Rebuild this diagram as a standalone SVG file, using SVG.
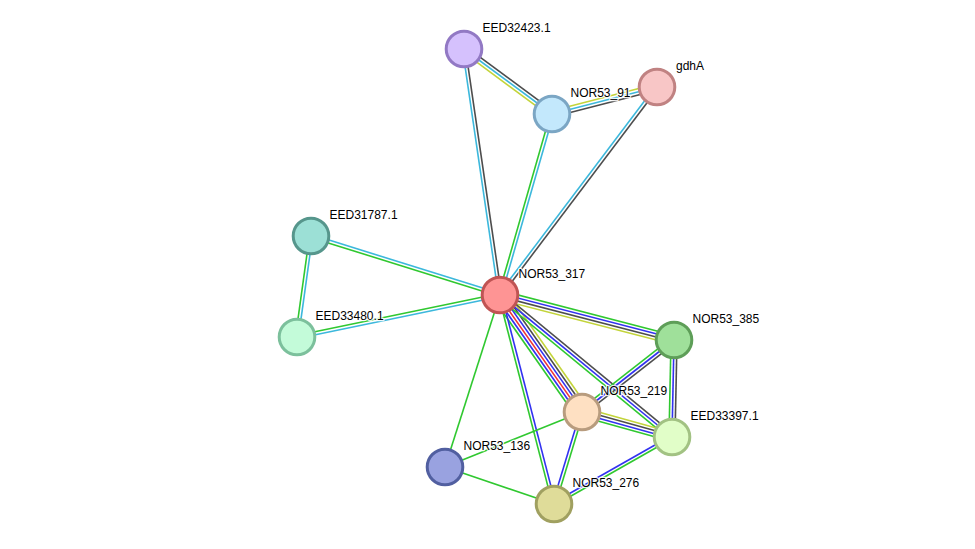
<svg xmlns="http://www.w3.org/2000/svg" width="975" height="549" viewBox="0 0 975 549">
<style>
line{stroke-width:1.6;fill:none}
.g{stroke:#30c830}.b{stroke:#3232f0}.r{stroke:#f03535}.k{stroke:#4d4d4d}.c{stroke:#3cb8dc}.y{stroke:#c3d43a}
circle{stroke-width:3}
text{font-family:"Liberation Sans",Arial,sans-serif;font-size:12px;fill:#000;stroke:#fff;stroke-width:2.5;stroke-opacity:0.85;paint-order:stroke;stroke-linejoin:round}
</style>
<rect width="975" height="549" fill="#fff"/>
<g id="edges">
<!-- EED32423.1 - NOR53_91 -->
<line class="y" x1="464" y1="49" x2="552" y2="114" transform="translate(-1.78 2.41)"/>
<line class="c" x1="464" y1="49" x2="552" y2="114"/>
<line class="k" x1="464" y1="49" x2="552" y2="114" transform="translate(1.78 -2.41)"/>
<!-- EED32423.1 - NOR53_317 -->
<line class="c" x1="464" y1="49" x2="500" y2="295" transform="translate(-1.48 0.22)"/>
<line class="k" x1="464" y1="49" x2="500" y2="295" transform="translate(1.48 -0.22)"/>
<!-- NOR53_91 - gdhA -->
<line class="y" x1="552" y1="114" x2="657" y2="87" transform="translate(-0.75 -2.91)"/>
<line class="c" x1="552" y1="114" x2="657" y2="87"/>
<line class="k" x1="552" y1="114" x2="657" y2="87" transform="translate(0.75 2.91)"/>
<!-- NOR53_91 - NOR53_317 -->
<line class="g" x1="552" y1="114" x2="500" y2="295" transform="translate(-1.44 -0.41)"/>
<line class="c" x1="552" y1="114" x2="500" y2="295" transform="translate(1.44 0.41)"/>
<!-- gdhA - NOR53_317 -->
<line class="c" x1="657" y1="87" x2="500" y2="295" transform="translate(-1.2 -0.9)"/>
<line class="k" x1="657" y1="87" x2="500" y2="295" transform="translate(1.2 0.9)"/>
<!-- EED31787.1 - NOR53_317 -->
<line class="c" x1="311" y1="236" x2="500" y2="295" transform="translate(0.45 -1.43)"/>
<line class="g" x1="311" y1="236" x2="500" y2="295" transform="translate(-0.45 1.43)"/>
<!-- EED31787.1 - EED33480.1 -->
<line class="g" x1="311" y1="236" x2="297" y2="337" transform="translate(-1.49 -0.21)"/>
<line class="c" x1="311" y1="236" x2="297" y2="337" transform="translate(1.49 0.21)"/>
<!-- EED33480.1 - NOR53_317 -->
<line class="g" x1="297" y1="337" x2="500" y2="295" transform="translate(-0.3 -1.47)"/>
<line class="c" x1="297" y1="337" x2="500" y2="295" transform="translate(0.3 1.47)"/>
<!-- NOR53_317 - NOR53_385 -->
<line class="g" x1="500" y1="295" x2="674" y2="340" transform="translate(1.13 -4.35)"/>
<line class="b" x1="500" y1="295" x2="674" y2="340" transform="translate(0.38 -1.45)"/>
<line class="k" x1="500" y1="295" x2="674" y2="340" transform="translate(-0.38 1.45)"/>
<line class="y" x1="500" y1="295" x2="674" y2="340" transform="translate(-1.13 4.35)"/>
<!-- NOR53_317 - NOR53_219 -->
<line class="g" x1="500" y1="295" x2="582" y2="412" transform="translate(-6.15 4.3)"/>
<line class="b" x1="500" y1="295" x2="582" y2="412" transform="translate(-3.69 2.58)"/>
<line class="r" x1="500" y1="295" x2="582" y2="412" transform="translate(-1.23 0.86)"/>
<line class="b" x1="500" y1="295" x2="582" y2="412" transform="translate(1.23 -0.86)"/>
<line class="k" x1="500" y1="295" x2="582" y2="412" transform="translate(3.69 -2.58)"/>
<line class="y" x1="500" y1="295" x2="582" y2="412" transform="translate(6.15 -4.3)"/>
<!-- NOR53_317 - EED33397.1 -->
<line class="k" x1="500" y1="295" x2="672" y2="437" transform="translate(1.91 -2.31)"/>
<line class="b" x1="500" y1="295" x2="672" y2="437"/>
<line class="g" x1="500" y1="295" x2="672" y2="437" transform="translate(-1.91 2.31)"/>
<!-- NOR53_317 - NOR53_276 -->
<line class="g" x1="500" y1="295" x2="554" y2="504" transform="translate(-1.45 0.38)"/>
<line class="b" x1="500" y1="295" x2="554" y2="504" transform="translate(1.45 -0.38)"/>
<!-- NOR53_317 - NOR53_136 -->
<line class="g" x1="500" y1="295" x2="445" y2="467"/>
<!-- NOR53_385 - NOR53_219 -->
<line class="g" x1="674" y1="340" x2="582" y2="412" transform="translate(-1.85 -2.36)"/>
<line class="b" x1="674" y1="340" x2="582" y2="412"/>
<line class="k" x1="674" y1="340" x2="582" y2="412" transform="translate(1.85 2.36)"/>
<!-- NOR53_385 - EED33397.1 -->
<line class="g" x1="674" y1="340" x2="672" y2="437" transform="translate(-3 0)"/>
<line class="b" x1="674" y1="340" x2="672" y2="437"/>
<line class="k" x1="674" y1="340" x2="672" y2="437" transform="translate(3 0)"/>
<!-- NOR53_219 - EED33397.1 -->
<line class="y" x1="582" y1="412" x2="672" y2="437" transform="translate(1.2 -4.34)"/>
<line class="k" x1="582" y1="412" x2="672" y2="437" transform="translate(0.4 -1.45)"/>
<line class="b" x1="582" y1="412" x2="672" y2="437" transform="translate(-0.4 1.45)"/>
<line class="g" x1="582" y1="412" x2="672" y2="437" transform="translate(-1.2 4.34)"/>
<!-- NOR53_219 - NOR53_276 -->
<line class="b" x1="582" y1="412" x2="554" y2="504" transform="translate(-1.43 -0.44)"/>
<line class="g" x1="582" y1="412" x2="554" y2="504" transform="translate(1.43 0.44)"/>
<!-- NOR53_219 - NOR53_136 -->
<line class="g" x1="582" y1="412" x2="445" y2="467"/>
<!-- NOR53_136 - NOR53_276 -->
<line class="g" x1="445" y1="467" x2="554" y2="504"/>
<!-- EED33397.1 - NOR53_276 -->
<line class="b" x1="672" y1="437" x2="554" y2="504" transform="translate(-0.74 -1.3)"/>
<line class="g" x1="672" y1="437" x2="554" y2="504" transform="translate(0.74 1.3)"/>
</g>
<g id="EED32423.1"><circle cx="464" cy="49" r="17.8" fill="#d5c1fd" stroke="#9279c4"/><text x="482.5" y="32">EED32423.1</text></g>
<g id="gdhA"><circle cx="657" cy="87" r="17.8" fill="#f8c6c6" stroke="#c08282"/><text x="676" y="70">gdhA</text></g>
<g id="NOR53_91"><circle cx="552" cy="114" r="17.8" fill="#c3e8fc" stroke="#7ba6c4"/><text x="570.5" y="97">NOR53_91</text></g>
<g id="EED31787.1"><circle cx="311" cy="236" r="17.8" fill="#9ce0d6" stroke="#56968c"/><text x="329.5" y="219">EED31787.1</text></g>
<g id="EED33480.1"><circle cx="297" cy="337" r="17.8" fill="#c3fbd9" stroke="#7cc09c"/><text x="315.5" y="320">EED33480.1</text></g>
<g id="NOR53_317"><circle cx="500" cy="295" r="17.8" fill="#fe9494" stroke="#c05454"/><text x="518.5" y="278">NOR53_317</text></g>
<g id="NOR53_385"><circle cx="674" cy="340" r="17.8" fill="#9fe09a" stroke="#5e9e58"/><text x="692.5" y="323">NOR53_385</text></g>
<g id="NOR53_219"><circle cx="582" cy="412" r="17.8" fill="#fee0c2" stroke="#b89c7e"/><text x="600.5" y="395">NOR53_219</text></g>
<g id="EED33397.1"><circle cx="672" cy="437" r="17.8" fill="#e1fec8" stroke="#a2c283"/><text x="690.5" y="420">EED33397.1</text></g>
<g id="NOR53_136"><circle cx="445" cy="467" r="17.8" fill="#99a2e0" stroke="#515fa0"/><text x="463.5" y="450">NOR53_136</text></g>
<g id="NOR53_276"><circle cx="554" cy="504" r="17.8" fill="#dfdc99" stroke="#a0a060"/><text x="572.5" y="487">NOR53_276</text></g>
</svg>
